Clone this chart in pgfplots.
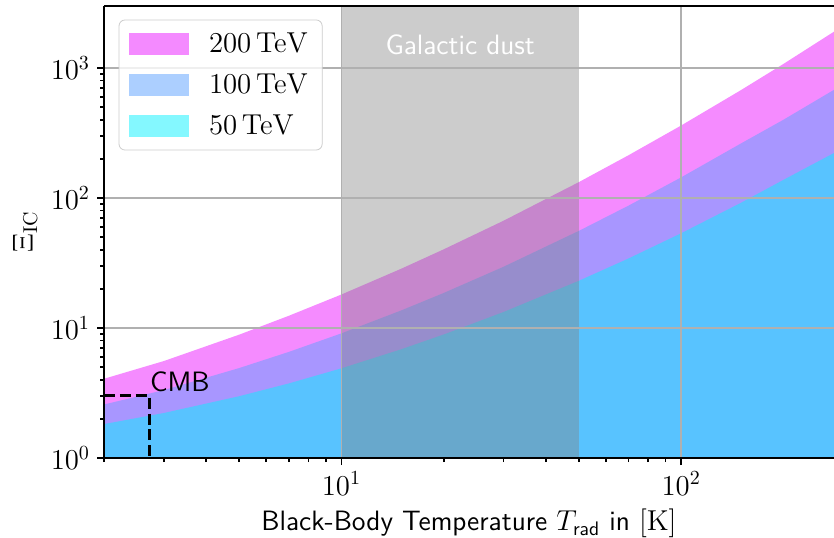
\documentclass[border=0pt]{standalone}
\usepackage{amsmath}
\usepackage{pgfplots}
\pgfplotsset{compat=1.18}
\definecolor{c200}{RGB}{235,23,255}
\definecolor{c100}{RGB}{91,161,255}
\definecolor{c50}{RGB}{11,241,255}
\definecolor{gridgray}{RGB}{176,176,176}
\newcommand{\fs}{\fontsize{14}{17}\selectfont}

\begin{document}
\begin{tikzpicture}
\begin{axis}[
    scale only axis,
    width=365pt, height=226pt,
    xmode=log, ymode=log,
    xmin=2, xmax=281.8, ymin=1, ymax=3000,
    axis y line*=left, axis x line*=box,
    xtick pos=left,
    tick align=outside,
    major tick length=3.5pt, minor tick length=2pt,
    every tick/.style={black, line width=0.8pt},
    axis line style={line width=0.8pt},
    grid=major,
    major grid style={gridgray, line width=0.8pt},
    axis on top,
    tick label style={font=\fs},
    label style={font=\fs},
    xlabel={\sffamily Black-Body Temperature $T_{\textsf{rad}}$ in $[\mathrm{K}]$},
    ylabel={$\Xi_{\mathrm{IC}}$},
    legend style={at={(0.02,0.97)}, anchor=north west, draw=black!20,
        fill=white, fill opacity=0.8, text opacity=1, rounded corners=3pt,
        font=\fs, row sep=5pt, inner xsep=5pt, inner ysep=4.5pt},
    legend cell align=left,
    legend image code/.code={\fill[#1, sharp corners] (0pt,-5.5pt) rectangle (30pt,5.5pt);
        \path (38pt,0pt);},
]
\coordinate (O) at (rel axis cs:0,0);

% 200 TeV
\addplot[draw=none, fill=c200, fill opacity=0.5] coordinates {
    (2,4.07) (3,5.57) (5,8.89) (7,12.42) (10,18.11) (15,28.6) (20,40.3)
    (30,66.9) (50,132.6) (70,213.4) (100,361.4) (150,676.5) (200,1075) (281.8,1905)
} \closedcycle;
% 100 TeV
\addplot[draw=none, fill=c100, fill opacity=0.5] coordinates {
    (2,2.58) (3,3.33) (5,4.92) (7,6.55) (10,9.10) (15,13.66) (20,18.61)
    (30,29.6) (50,55.9) (70,87.4) (100,144.2) (150,263) (200,400) (281.8,680)
} \closedcycle;
% 50 TeV
\addplot[draw=none, fill=c50, fill opacity=0.5] coordinates {
    (2,1.824) (3,2.219) (5,2.988) (7,3.748) (10,4.898) (15,6.865) (20,8.917)
    (30,13.28) (50,23.09) (70,34.28) (100,53.58) (150,91.9) (200,137.9) (281.8,222)
} \closedcycle;

% galactic dust band
\addplot[draw=none, fill=gray, fill opacity=0.4, forget plot] coordinates {
    (10,3000) (50,3000)
} \closedcycle;

% CMB
\addplot[black, line width=1.5pt, dash pattern=on 5.5pt off 2.4pt, forget plot] coordinates {
    (2,3) (2.725,3) (2.725,1)
};

\node[font=\sffamily\fs, text=white] at (axis cs:22.36,1500) {Galactic dust};
\node[font=\sffamily\fs, anchor=base west, inner sep=0pt, yshift=2pt] at (axis cs:2.725,3) {CMB};

\legend{$200\,\mathrm{TeV}$, $100\,\mathrm{TeV}$, $50\,\mathrm{TeV}$}
\end{axis}
\pgfresetboundingbox
\path ([shift={(-52pt,-39.5pt)}]O) rectangle ([shift={(365pt,229pt)}]O);
\end{tikzpicture}
\end{document}
